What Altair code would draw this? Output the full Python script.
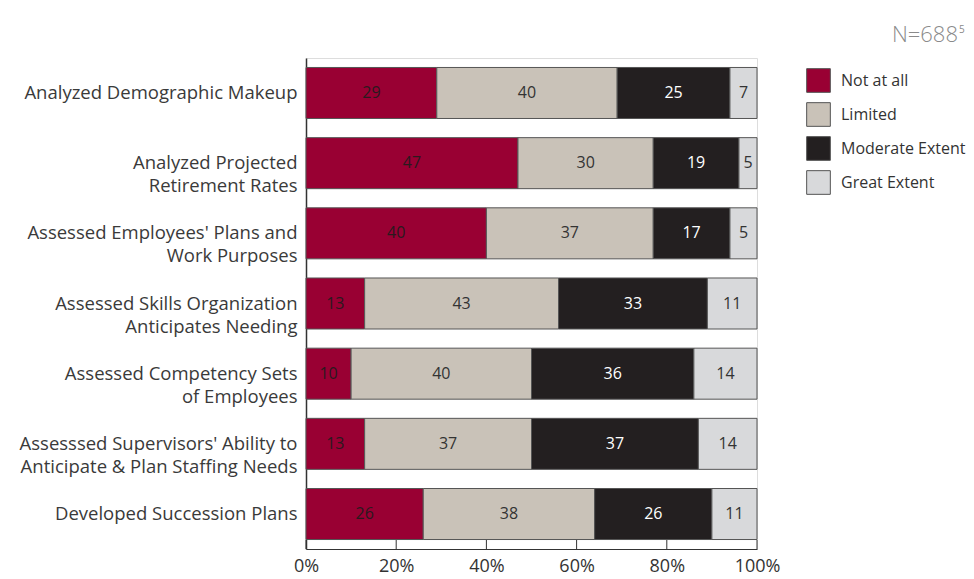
import altair as alt
import pandas as pd

categories = [
    "Analyzed Demographic Makeup",
    "Analyzed Projected\nRetirement Rates",
    "Assessed Employees' Plans and\nWork Purposes",
    "Assessed Skills Organization\nAnticipates Needing",
    "Assessed Competency Sets\nof Employees",
    "Assesssed Supervisors' Ability to\nAnticipate & Plan Staffing Needs",
    "Developed Succession Plans",
]
series = ["Not at all", "Limited", "Moderate Extent", "Great Extent"]
not_at_all = [29, 47, 40, 13, 10, 13, 26]
limited = [40, 30, 37, 43, 40, 37, 38]
moderate = [25, 19, 17, 33, 36, 37, 26]
great = [7, 5, 5, 11, 14, 14, 11]
colors = ["#990033", "#c9c2b8", "#231f20", "#d8d9db"]
text_colors = ["#2a1a1e", "#333333", "#ffffff", "#333333"]
tick_values = [0, 20, 40, 60, 80, 100]

rows = []
for i, c in enumerate(categories):
    for j, (s, vals) in enumerate(zip(series, [not_at_all, limited, moderate, great])):
        rows.append({"category": c, "series": s, "value": vals[i], "order": j, "tc": text_colors[j]})
df = pd.DataFrame(rows)
ticks_df = pd.DataFrame({"t": tick_values})

FONT = "Open Sans"
W, H = 451, 491

xscale = alt.Scale(domain=[0, 100], nice=False, zero=True, clamp=True)
yenc = alt.Y(
    "category:N",
    sort=categories,
    scale=alt.Scale(paddingInner=0.273, paddingOuter=0.135),
    axis=alt.Axis(
        title=None, ticks=False, domain=True, domainColor="#333333", domainWidth=1.5,
        labelExpr="split(datum.label, '\\n')", labelFont=FONT, labelFontSize=18.5,
        labelColor="#3a3a3a", labelPadding=9, labelLineHeight=23, labelLimit=400,
    ),
)

# the last segment closes each bar at 100%
bars = alt.Chart(df).transform_window(
    cum="sum(value)", groupby=["category"], sort=[alt.SortField("order")], frame=[None, 0]
).transform_calculate(
    start="datum.cum - datum.value",
    end="datum.order == 3 ? 100 : min(datum.cum, 100)",
).mark_bar(stroke="#555555", strokeWidth=1).encode(
    x=alt.X(
        "start:Q", scale=xscale,
        axis=alt.Axis(
            title=None, labelExpr="datum.value + '%'", values=tick_values, ticks=False, grid=False,
            domain=True, domainColor="#333333", domainWidth=1.2, labelFlush=False,
            labelFont=FONT, labelFontSize=18, labelColor="#333333", labelPadding=8,
        ),
    ),
    x2="end:Q",
    y=yenc,
    color=alt.Color(
        "series:N",
        scale=alt.Scale(domain=series, range=colors),
        legend=alt.Legend(
            title=None, orient="none", legendX=500, legendY=10, padding=0,
            symbolType="square", symbolSize=560, symbolStrokeColor="#555555",
            symbolStrokeWidth=1, symbolOpacity=1, labelFont=FONT, labelFontSize=16,
            labelColor="#333333", labelOffset=10, rowPadding=5,
        ),
    ),
)

labels = alt.Chart(df).transform_window(
    cum="sum(value)", groupby=["category"], sort=[alt.SortField("order")], frame=[None, 0]
).transform_calculate(
    end="datum.order == 3 ? 100 : min(datum.cum, 100)",
).transform_calculate(
    mid="(datum.cum - datum.value + datum.end) / 2"
).mark_text(font=FONT, fontSize=16, baseline="middle", align="center").encode(
    x=alt.X("mid:Q", scale=xscale),
    y=alt.Y("category:N", sort=categories),
    text=alt.Text("value:Q"),
    color=alt.Color("tc:N", scale=None),
)

ticks = alt.Chart(ticks_df).mark_rule(color="#333333", strokeWidth=1).encode(
    x=alt.X("t:Q", scale=xscale),
    y=alt.value(H - 9),
    y2=alt.value(H),
)

note = alt.Chart(pd.DataFrame({"n": ["N=688"]})).mark_text(
    font=FONT, fontSize=22, color="#8a8a8a", align="right", baseline="alphabetic", fontWeight=300
).encode(text="n:N", x=alt.value(652), y=alt.value(-16))

sup = alt.Chart(pd.DataFrame({"n": ["5"]})).mark_text(
    font=FONT, fontSize=10, color="#8a8a8a", align="left", baseline="alphabetic"
).encode(text="n:N", x=alt.value(653), y=alt.value(-25))

chart = alt.layer(bars, labels, ticks, note, sup).properties(
    width=W, height=H,
    autosize=alt.AutoSizeParams(type="none"),
    padding={"left": 298, "top": 50, "right": 209, "bottom": 30},
).configure_view(stroke=None).configure(background="white")

chart.save("out.html", embed_options={"renderer": "svg", "actions": False})
